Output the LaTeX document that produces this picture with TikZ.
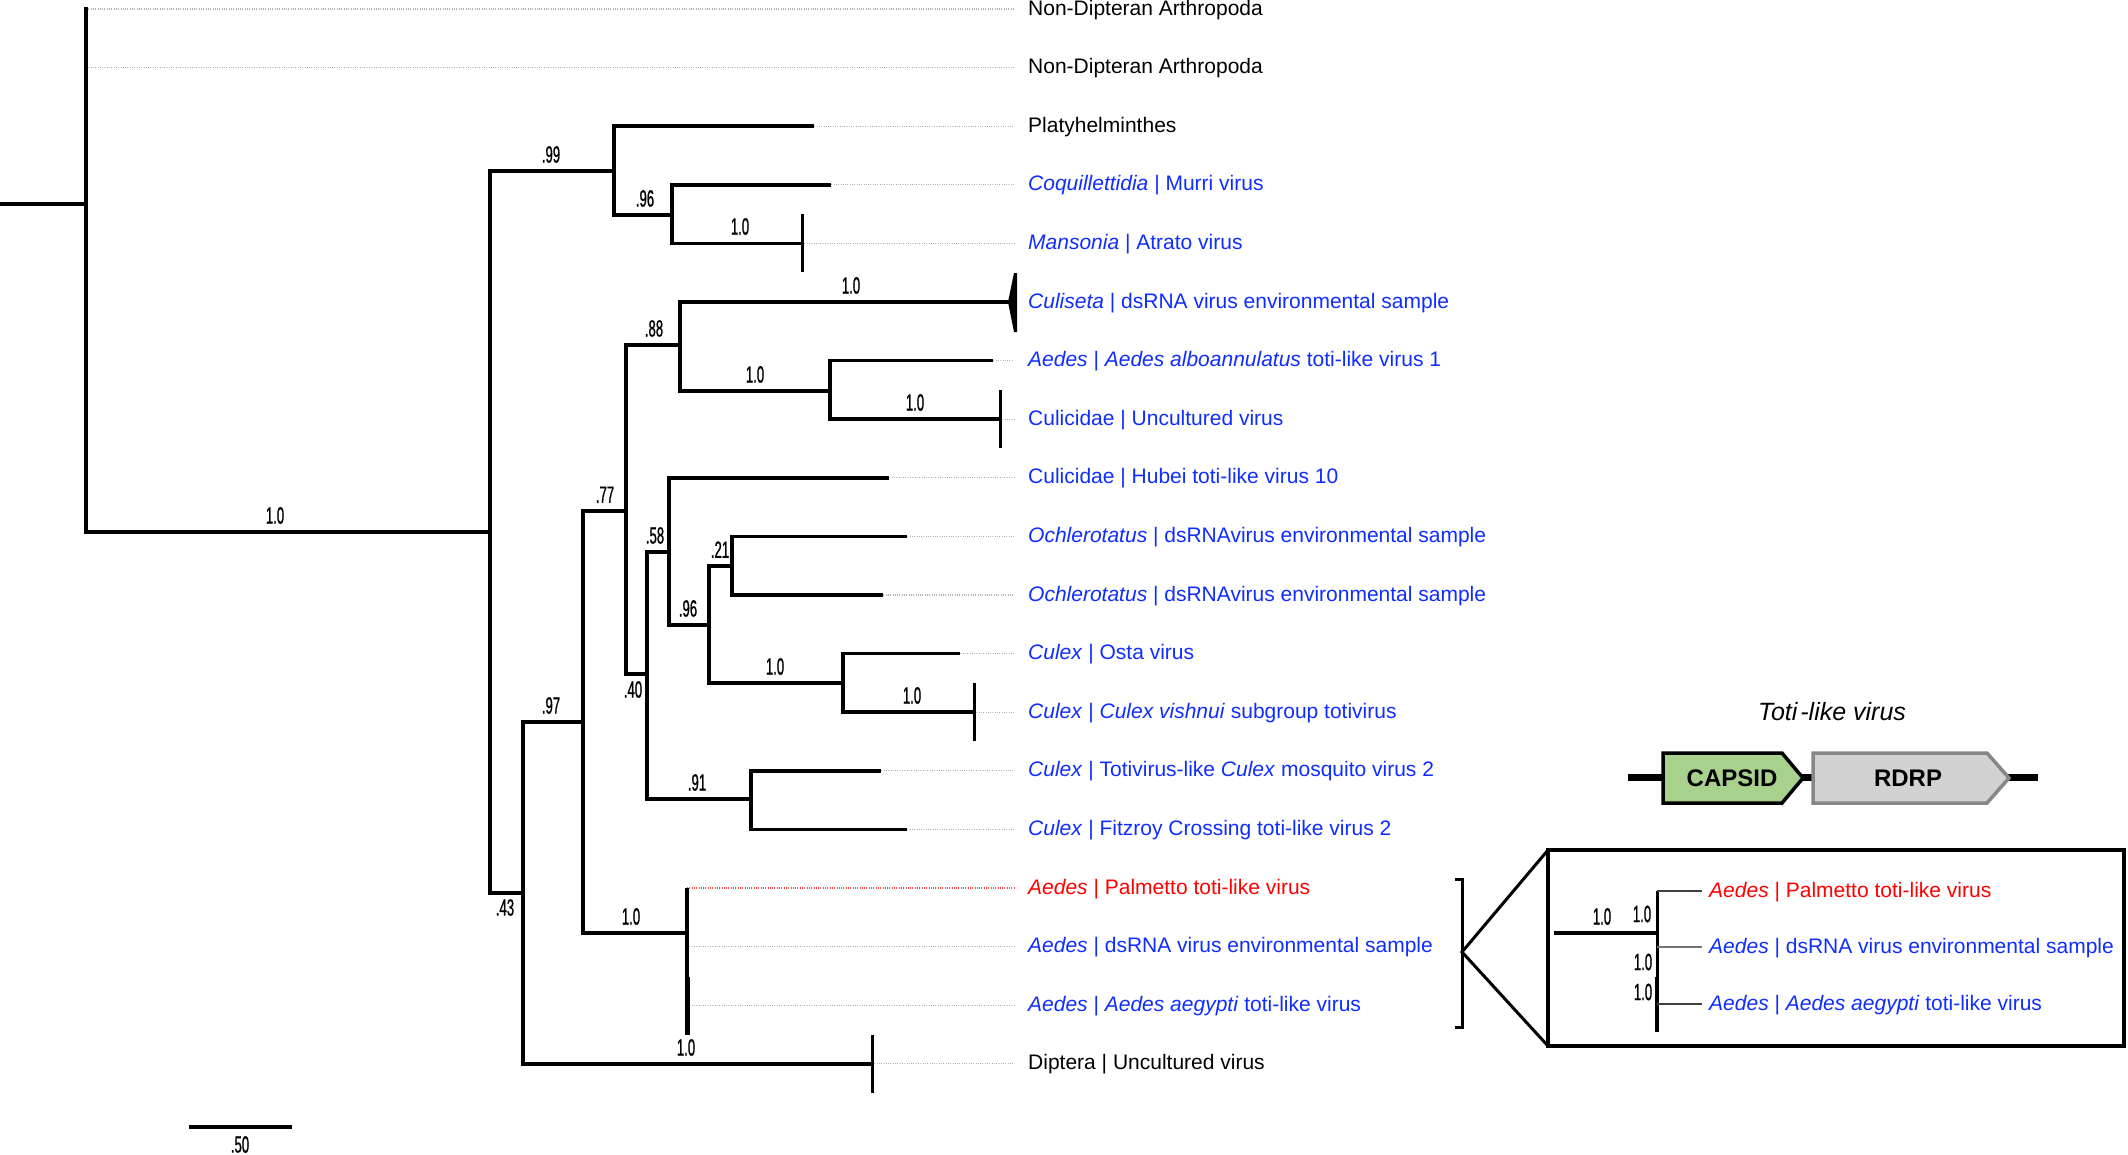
\documentclass[tikz,border=0pt]{standalone}
\usepackage{fontspec}
\setmainfont{Liberation Sans}
\newfontfamily\supfont[FakeStretch=0.56,FakeBold=0.8]{Liberation Sans}
\definecolor{tblue}{RGB}{15,45,255}
\definecolor{tred}{RGB}{255,0,0}
\definecolor{capsidgreen}{RGB}{169,209,142}
\definecolor{rdrpgray}{RGB}{210,210,210}
\definecolor{rdrpedge}{RGB}{135,135,135}
\begin{document}
\begin{tikzpicture}[x=1pt,y=-1pt,
  branch/.style={line width=3.5pt,line cap=rect,line join=miter},
  leafdot/.style={line width=1.1pt,gray!60,dash pattern=on 1pt off 1.3pt},
  reddot/.style={leafdot,tred!70},
  tipbar/.style={line width=3pt},
  sup/.style={font=\supfont\fontsize{23.5}{24}\selectfont,inner sep=0pt,anchor=south,yshift=3pt},
  supb/.style={font=\supfont\fontsize{23.5}{24}\selectfont,inner sep=0pt,anchor=north},
  supc/.style={font=\supfont\fontsize{23.5}{24}\selectfont,inner sep=0pt,anchor=center},
  taxon/.style={font=\fontsize{21}{25}\selectfont,inner sep=0pt,anchor=base west},
  btaxon/.style={taxon,text=tblue},
  rtaxon/.style={taxon,text=tred},
  frame/.style={line width=3.5pt,line join=miter},
  gene/.style={line width=3.5pt,line join=miter},
  genetext/.style={font=\bfseries\fontsize{24}{24}\selectfont,inner sep=0pt}
]
\useasboundingbox (0,0) rectangle (2128,1154);

% ---------- internal nodes ----------
\coordinate (R0) at (0,204);
\coordinate (R) at (86,204);
\coordinate (A) at (490,532);
\coordinate (B) at (614,171);
\coordinate (D) at (672,215);
\coordinate (C) at (523,893);
\coordinate (E) at (583,722);
\coordinate (F) at (626,511);
\coordinate (G) at (687,933);
\coordinate (H) at (680,345);
\coordinate (J) at (830,391);
\coordinate (I) at (647,674);
\coordinate (K) at (669,552);
\coordinate (L) at (751,799);
\coordinate (M) at (709,625);
\coordinate (N) at (732,566);
\coordinate (O) at (843,683);

% ---------- branch ends ----------
\coordinate (e1) at (86,9);
\coordinate (e2) at (86,67.6);
\coordinate (e3) at (812,126.2);
\coordinate (e4) at (829,184.8);
\coordinate (e5) at (802,243.4);
\coordinate (e6) at (1010,302);
\coordinate (e7) at (991,360.6);
\coordinate (e8) at (1000,419.2);
\coordinate (e9) at (887,477.8);
\coordinate (e10) at (905,536.4);
\coordinate (e11) at (881,595);
\coordinate (e12) at (958,653.6);
\coordinate (e13) at (974,712.2);
\coordinate (e14) at (879,770.8);
\coordinate (e15) at (905,829.4);
\coordinate (e16) at (687,888);
\coordinate (e17) at (687,946.6);
\coordinate (e18) at (687,1005.2);
\coordinate (e19) at (872,1063.8);
\coordinate (Gm) at (687,977);
\coordinate (Gb) at (687,1035);

% ---------- dotted line ends ----------
\foreach \i/\y in {1/9,2/67.6,3/126.2,4/184.8,5/243.4,7/360.6,8/419.2,9/477.8,10/536.4,11/595,12/653.6,13/712.2,14/770.8,15/829.4,16/888,17/946.6,18/1005.2,19/1063.8}
  \coordinate (d\i) at (1014,\y);

% ---------- dotted leaders ----------
\foreach \i in {1,2,3,4,5,7,8,9,10,11,12,13,14,15,17,18,19}
  \draw[leafdot] (e\i) -- (d\i);
\draw[reddot] (e16) -- (d16);

% ---------- branches ----------
\draw[branch] (R0) -- (R);
\foreach \p/\c in {R/e1,R/e2,R/A,A/B,A/C,B/e3,B/D,D/e4,D/e5,C/E,C/e19,E/F,E/G,
  F/H,F/I,H/e6,H/J,J/e7,J/e8,I/K,I/L,K/e9,K/M,M/N,M/O,N/e10,N/e11,O/e12,O/e13,L/e14,L/e15}
  \draw[branch] (\p) |- (\c);
\draw[line width=3.5pt] (e16) -- (Gm);
\draw[line width=5pt] (Gm) -- (Gb);

% ---------- collapsed-clade bars ----------
\foreach \i in {5,8,13,19}
  \draw[tipbar] ([yshift=29pt]e\i) -- ([yshift=-29pt]e\i);
\fill ([xshift=-2pt]e6) -- ([xshift=4pt,yshift=29pt]e6) -- ([xshift=7pt,yshift=29pt]e6)
  -- ([xshift=7pt,yshift=-30pt]e6) -- ([xshift=4pt,yshift=-30pt]e6) -- cycle;

% ---------- support values ----------
\node[sup] (sA) at (275,527) {1.0};
\node[sup] (sB) at (551,166) {.99};
\node[sup] (sD) at (645,210) {.96};
\node[sup] (s5) at (740,238) {1.0};
\node[sup] (s6) at (851,297) {1.0};
\node[sup] (sH) at (654,340) {.88};
\node[sup] (sJ) at (755,386) {1.0};
\node[sup] (s8) at (915,414) {1.0};
\node[sup] (sF) at (605,506) {.77};
\node[sup] (sK) at (655,547) {.58};
\node[sup] (sN) at (720,561) {.21};
\node[sup] (sM) at (688,620) {.96};
\node[sup] (sO) at (775,678) {1.0};
\node[sup] (s13) at (912,707) {1.0};
\node[supb] (sI) at (633,681) {.40};
\node[sup] (sL) at (697,794) {.91};
\node[sup] (sE) at (551,717) {.97};
\node[sup] (sG) at (631,928) {1.0};
\node[supb] (sC) at (505,899) {.43};
\node[sup] (s19) at (686,1059) {1.0};

% ---------- taxon labels ----------
\node[taxon] (t1) at (1028,15) {Non-Dipteran Arthropoda};
\node[taxon] (t2) at (1028,73.6) {Non-Dipteran Arthropoda};
\node[taxon] (t3) at (1028,132.2) {Platyhelminthes};
\node[btaxon] (t4) at (1028,190.8) {\textit{Coquillettidia} | Murri virus};
\node[btaxon] (t5) at (1028,249.4) {\textit{Mansonia} | Atrato virus};
\node[btaxon] (t6) at (1028,308) {\textit{Culiseta} | dsRNA virus environmental sample};
\node[btaxon] (t7) at (1028,366.6) {\textit{Aedes} | \textit{Aedes alboannulatus} toti-like virus 1};
\node[btaxon] (t8) at (1028,425.2) {Culicidae | Uncultured virus};
\node[btaxon] (t9) at (1028,483.8) {Culicidae | Hubei toti-like virus 10};
\node[btaxon] (t10) at (1028,542.4) {\textit{Ochlerotatus} | dsRNAvirus environmental sample};
\node[btaxon] (t11) at (1028,601) {\textit{Ochlerotatus} | dsRNAvirus environmental sample};
\node[btaxon] (t12) at (1028,659.6) {\textit{Culex} | Osta virus};
\node[btaxon] (t13) at (1028,718.2) {\textit{Culex} | \textit{Culex vishnui} subgroup totivirus};
\node[btaxon] (t14) at (1028,776.8) {\textit{Culex} | Totivirus-like \textit{Culex} mosquito virus 2};
\node[btaxon] (t15) at (1028,835.4) {\textit{Culex} | Fitzroy Crossing toti-like virus 2};
\node[rtaxon] (t16) at (1028,894) {\textit{Aedes} | Palmetto toti-like virus};
\node[btaxon] (t17) at (1028,952.6) {\textit{Aedes} | dsRNA virus environmental sample};
\node[btaxon] (t18) at (1028,1011.2) {\textit{Aedes} | \textit{Aedes aegypti} toti-like virus};
\node[taxon] (t19) at (1028,1069.8) {Diptera | Uncultured virus};

% ---------- scale bar ----------
\coordinate (sb1) at (189,1127);
\coordinate (sb2) at (292,1127);
\draw[line width=4pt] (sb1) -- (sb2);
\node[supb] (sbl) at (240,1136) {.50};

% ---------- bracket and zoom lines ----------
\coordinate (bt0) at (1455,879);
\coordinate (bt) at (1462,879);
\coordinate (bb) at (1462,1027);
\coordinate (bb0) at (1455,1027);
\coordinate (bm) at (1462,952);
\draw[line width=3pt,line join=miter] (bt0) -- (bt) -- (bb) -- (bb0);
\coordinate (boxtl) at (1548,850);
\coordinate (boxbr) at (2124,1046);
\coordinate (boxbl) at (1548,1046);
\draw[line width=3pt] (boxtl) -- (bm) -- (boxbl);
\draw[frame] (boxtl) rectangle (boxbr);

% ---------- inset tree ----------
\coordinate (iA) at (1554,933);
\coordinate (iP) at (1657,933);
\coordinate (iT1) at (1657,891);
\coordinate (iT2) at (1657,947);
\coordinate (iT3) at (1657,1004);
\coordinate (iM) at (1657,977);
\coordinate (iB) at (1657,1032);
\coordinate (iL1) at (1702,891);
\coordinate (iL2) at (1702,947);
\coordinate (iL3) at (1702,1004);
\draw[line width=3.5pt] (iA) -- (iP);
\draw[line width=3pt] (iT1) -- (iM);
\draw[line width=4.5pt] (iM) -- (iB);
\draw[line width=1.3pt,black!75] (iT1) -- (iL1);
\draw[line width=1.3pt,black!55] (iT2) -- (iL2);
\draw[line width=1.3pt,black!75] (iT3) -- (iL3);
\node[sup] (is0) at (1602,928) {1.0};
\node[supc] (is1) at (1642,914) {1.0};
\node[supc] (is2) at (1643,962) {1.0};
\node[supc] (is3) at (1643,992) {1.0};
\node[rtaxon] (it1) at (1709,897) {\textit{Aedes} | Palmetto toti-like virus};
\node[btaxon] (it2) at (1709,953) {\textit{Aedes} | dsRNA virus environmental sample};
\node[btaxon] (it3) at (1709,1010) {\textit{Aedes} | \textit{Aedes aegypti} toti-like virus};

% ---------- genome diagram ----------
\node[font=\itshape\fontsize{25}{25}\selectfont,inner sep=0pt] (gtitle) at (1832,712) {Toti\kern3pt-like virus};
\coordinate (g1) at (1628,777);
\coordinate (g2) at (2038,777);
\draw[line width=7pt] (g1) -- (g2);
\draw[gene,fill=capsidgreen] (1663,753) -- (1782,753) -- (1803,778) -- (1782,803) -- (1663,803) -- cycle;
\draw[gene,draw=rdrpedge,fill=rdrpgray] (1813,753) -- (1987,753) -- (2009,778) -- (1987,803) -- (1813,803) -- cycle;
\node[genetext] (capsid) at (1732,778) {CAPSID};
\node[genetext] (rdrp) at (1908,778) {RDRP};
\end{tikzpicture}
\end{document}
